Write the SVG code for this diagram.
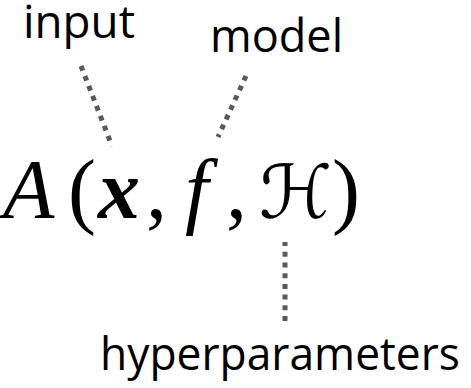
<svg xmlns="http://www.w3.org/2000/svg" width="471" height="388" viewBox="0 0 471 388">
<style>
.lbl{font-family:"Open Sans","Noto Sans",sans-serif;font-size:45px;fill:#000}
.math{font-family:"Liberation Serif","DejaVu Serif",serif;font-size:84px;fill:#000}
.it{font-style:italic}
.bi{font-style:italic;font-weight:bold}
.cal{font-family:"DejaVu Serif","DejaVu Sans",serif;font-size:74px}
.conn{stroke:#595959;stroke-width:5;stroke-dasharray:5 5.7;fill:none}
</style>
<rect width="471" height="388" fill="#fff"/>
<g id="connectors">
<path class="conn" d="M81 66 L112 146"/>
<path class="conn" d="M246 76 L218 137"/>
<path class="conn" d="M285 321 L285 242"/>
</g>
<g id="input"><text class="lbl" x="23" y="38" textLength="112" lengthAdjust="spacingAndGlyphs">input</text></g>
<g id="model"><text class="lbl" x="210" y="52" textLength="133" lengthAdjust="spacingAndGlyphs">model</text></g>
<g id="hyperparameters"><text class="lbl" x="100" y="370" textLength="360" lengthAdjust="spacingAndGlyphs">hyperparameters</text></g>
<g id="formula">
<text class="math it" x="3" y="218">A</text>
<text class="math" x="68" y="218">(</text>
<text class="math bi" x="98" y="218">x</text>
<text class="math" x="146" y="218">,</text>
<text class="math it" x="185" y="218">f</text>
<text class="math" x="226" y="218">,</text>
<text class="math cal" x="259" y="218">ℋ</text>
<text class="math" x="332" y="218">)</text>
</g>
</svg>
